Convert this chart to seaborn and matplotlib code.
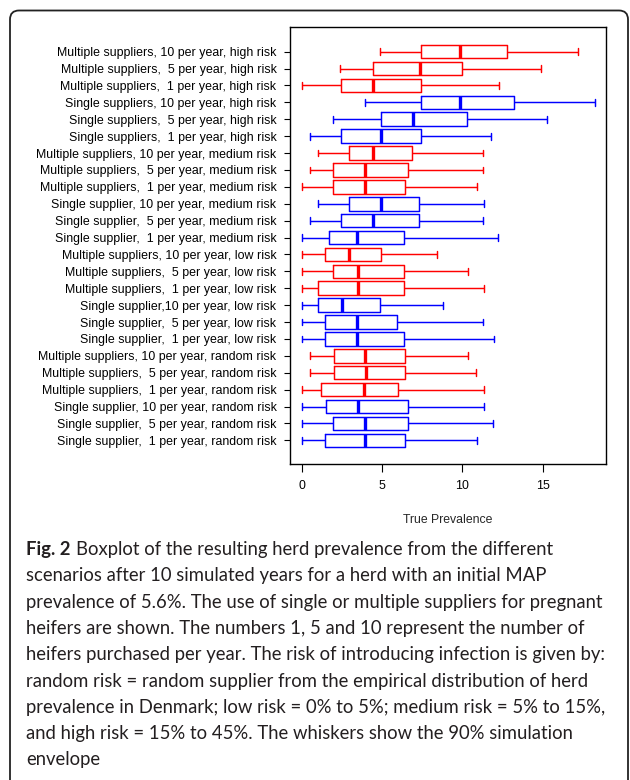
import matplotlib
matplotlib.use("Agg")
import matplotlib.pyplot as plt
from matplotlib.patches import FancyBboxPatch
from matplotlib.transforms import IdentityTransform
import seaborn as sns
import pandas as pd

# Scenario labels, top to bottom
labels = [
    "Multiple suppliers, 10 per year, high risk",
    "Multiple suppliers,  5 per year, high risk",
    "Multiple suppliers,  1 per year, high risk",
    "Single suppliers, 10 per year, high risk",
    "Single suppliers,  5 per year, high risk",
    "Single suppliers,  1 per year, high risk",
    "Multiple suppliers, 10 per year, medium risk",
    "Multiple suppliers,  5 per year, medium risk",
    "Multiple suppliers,  1 per year, medium risk",
    "Single supplier, 10 per year, medium risk",
    "Single supplier,  5 per year, medium risk",
    "Single supplier,  1 per year, medium risk",
    "Multiple suppliers, 10 per year, low risk",
    "Multiple suppliers,  5 per year, low risk",
    "Multiple suppliers,  1 per year, low risk",
    "Single supplier,10 per year, low risk",
    "Single supplier,  5 per year, low risk",
    "Single supplier,  1 per year, low risk",
    "Multiple suppliers, 10 per year, random risk",
    "Multiple suppliers,  5 per year, random risk",
    "Multiple suppliers,  1 per year, random risk",
    "Single supplier, 10 per year, random risk",
    "Single supplier,  5 per year, random risk",
    "Single supplier,  1 per year, random risk",
]
supplier = (["Multiple"] * 3 + ["Single"] * 3) * 4

# Five-number summaries (true prevalence, %): whiskers = 90% simulation envelope
whisker_lo = [4.90, 2.41, 0.00, 3.96, 1.97, 0.50,
              1.02, 0.50, 0.00, 1.02, 0.50, 0.00,
              0.00, 0.00, 0.00, 0.00, 0.00, 0.00,
              0.50, 0.50, 0.00, 0.00, 0.00, 0.00]
q1 = [7.41, 4.46, 2.45, 7.41, 4.92, 2.47,
      2.97, 1.97, 1.95, 2.97, 2.47, 1.72,
      1.47, 1.97, 1.00, 1.00, 1.47, 1.47,
      1.99, 1.99, 1.22, 1.49, 1.95, 1.47]
median = [9.85, 7.36, 4.42, 9.87, 6.95, 4.92,
          4.44, 3.94, 3.92, 4.92, 4.42, 3.46,
          2.97, 3.48, 3.48, 2.51, 3.46, 3.46,
          3.94, 3.98, 3.88, 3.48, 3.96, 3.96]
q3 = [12.78, 9.98, 7.45, 13.19, 10.31, 7.41,
      6.89, 6.62, 6.43, 7.32, 7.30, 6.35,
      4.92, 6.37, 6.37, 4.87, 5.95, 6.35,
      6.43, 6.45, 5.99, 6.64, 6.64, 6.45]
whisker_hi = [17.20, 14.87, 12.28, 18.25, 15.23, 11.78,
              11.28, 11.28, 10.93, 11.35, 11.28, 12.18,
              8.40, 10.37, 11.35, 8.79, 11.26, 11.97,
              10.37, 10.83, 11.35, 11.35, 11.91, 10.93]

x_ticks = [0, 5, 10, 15]

# Long table: the five summary values per scenario reproduce the box exactly
rows = []
for i, lab in enumerate(labels):
    for v in (whisker_lo[i], q1[i], median[i], q3[i], whisker_hi[i]):
        rows.append({"scenario": lab, "supplier": supplier[i], "prevalence": v})
df = pd.DataFrame(rows)

sns.set_theme(style="white")
plt.rcParams["font.family"] = ["Liberation Sans", "DejaVu Sans"]

W, H = 630, 780
fig = plt.figure(figsize=(W / 100, H / 100), dpi=100)
ax = fig.add_axes([290 / W, 1 - 464.3 / H, (606 - 290) / W, (464.3 - 27) / H])

sns.boxplot(
    data=df, x="prevalence", y="scenario", hue="supplier", order=labels,
    palette={"Multiple": "#ff0000", "Single": "#0000ff"},
    orient="h", dodge=False, fill=False, whis=(0, 100), width=0.8,
    linewidth=1.05, showfliers=False, legend=False, ax=ax,
    medianprops={"linewidth": 2.4},
)

ax.set_xlim(-0.73, 18.93)
ax.set_ylim(24.42, -1.46)
ax.set_xticks(x_ticks)
ax.set_xticklabels([str(t) for t in x_ticks])
ax.set_ylabel("")
ax.set_xlabel("True Prevalence", fontsize=8.8, labelpad=15.5)
for s in ax.spines.values():
    s.set_color("black")
    s.set_linewidth(1.0)
ax.tick_params(axis="y", length=4.3, width=0.8, pad=5.5, labelsize=8.95, left=True, colors="black")
ax.tick_params(axis="x", length=5.5, width=0.8, pad=6, labelsize=8.95, bottom=True, colors="black")

# Rounded frame around figure and caption
frame = FancyBboxPatch((10, -30), 618, H - 10.5 + 30,
                       boxstyle="round,pad=0,rounding_size=9",
                       transform=IdentityTransform(), fill=False,
                       edgecolor="#222222", linewidth=1.3)
fig.patches.append(frame)

# Caption
cap_font = ["Lato", "DejaVu Sans"]
cap_size = 13.35
cap_color = "#231f20"
caption_lines = [
    "Boxplot of the resulting herd prevalence from the different",
    "scenarios after 10 simulated years for a herd with an initial MAP",
    "prevalence of 5.6%. The use of single or multiple suppliers for pregnant",
    "heifers are shown. The numbers 1, 5 and 10 represent the number of",
    "heifers purchased per year. The risk of introducing infection is given by:",
    "random risk = random supplier from the empirical distribution of herd",
    "prevalence in Denmark; low risk = 0% to 5%; medium risk = 5% to 15%,",
    "and high risk = 15% to 45%. The whiskers show the 90% simulation",
    "envelope",
]
baseline0 = 555.0
step = 26.3
x0 = 26
fig_lbl = fig.text(x0, H - baseline0, "Fig. 2", transform=IdentityTransform(),
                   family=cap_font, fontsize=cap_size, fontweight="bold",
                   color=cap_color, va="baseline", ha="left")
renderer = fig.canvas.get_renderer()
bb = fig_lbl.get_window_extent(renderer)
for k, line in enumerate(caption_lines):
    xs = bb.x1 + 5 if k == 0 else x0
    fig.text(xs, H - (baseline0 + k * step), line, transform=IdentityTransform(),
             family=cap_font, fontsize=cap_size, color=cap_color,
             va="baseline", ha="left")

fig.savefig("out.png", dpi=100)
